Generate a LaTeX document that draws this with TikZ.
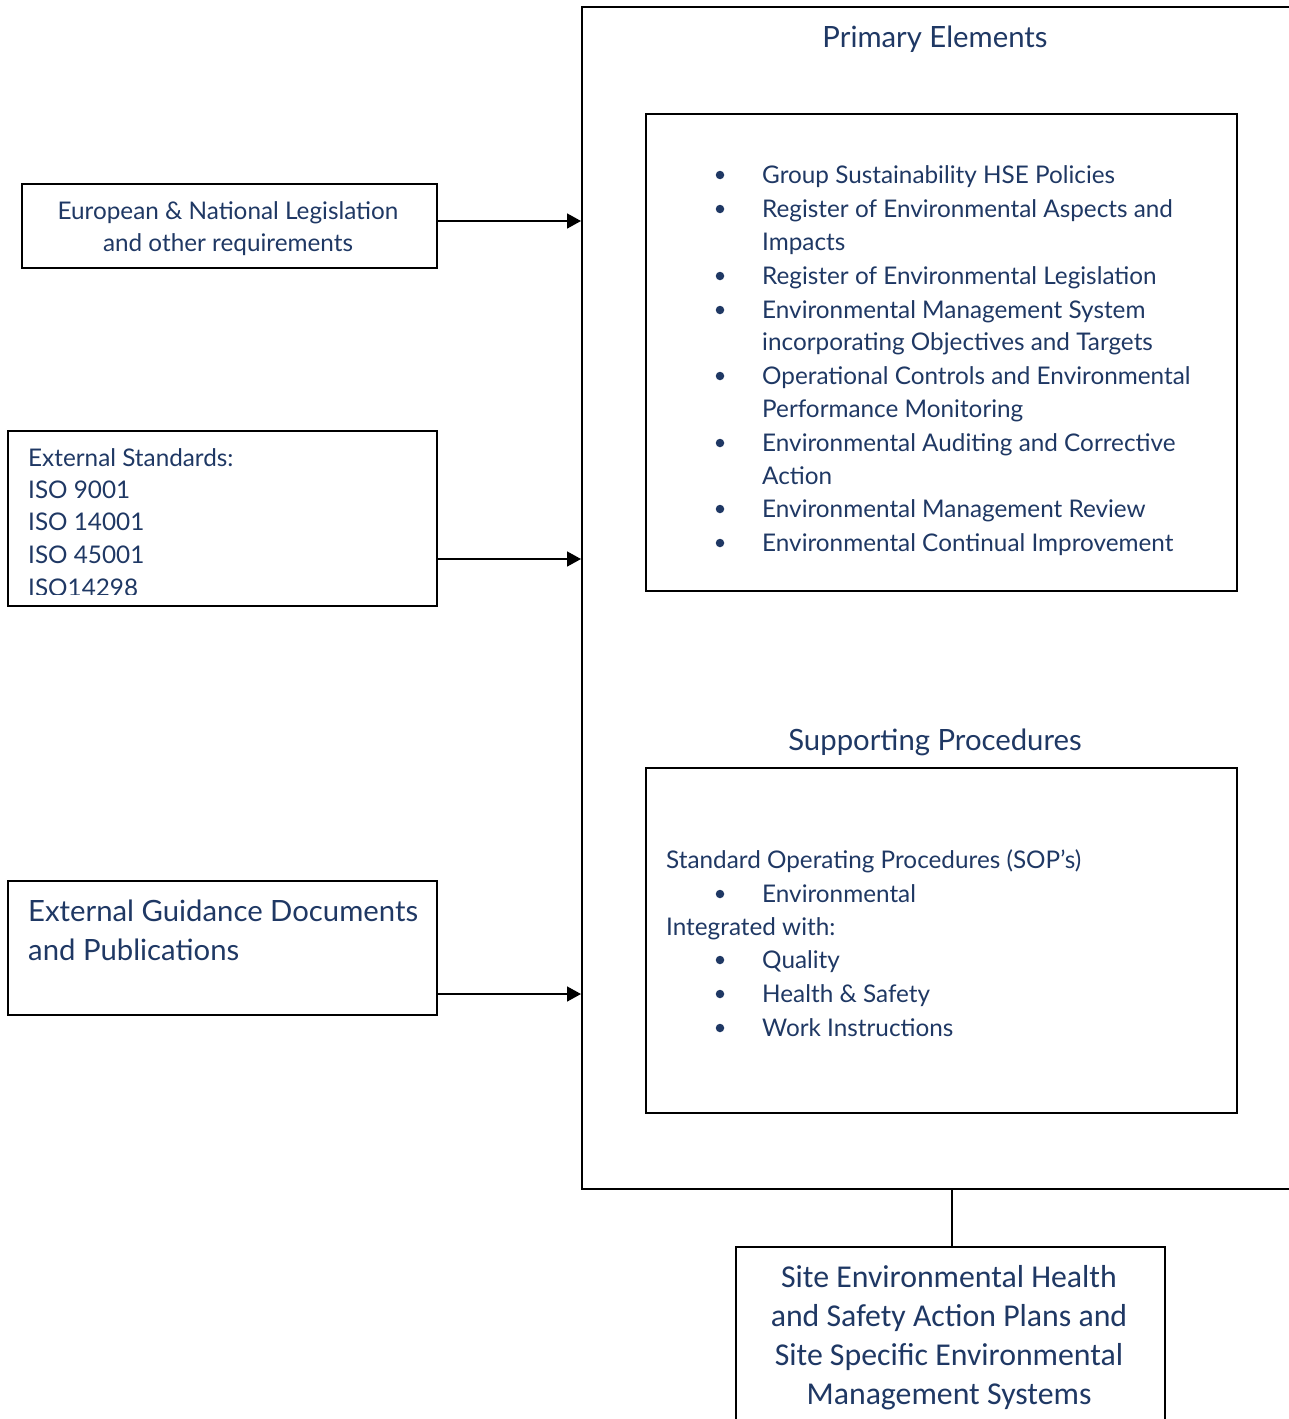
\documentclass[tikz,border=0pt]{standalone}
\usepackage{fontspec}
\setmainfont{Lato}
\newfontfamily\calib{Carlito}
\usetikzlibrary{arrows.meta}
\definecolor{txt}{HTML}{1F3864}
\begin{document}
\begin{tikzpicture}[x=1pt,y=-1pt,
  box/.style={draw=black, line width=1.6pt, inner sep=0, anchor=north west},
  lbl/.style={anchor=base west, inner sep=0, text=txt, font=\fontsize{24.3}{28}\selectfont},
  clbl/.style={lbl, anchor=base},
  big/.style={lbl, font=\fontsize{29.3}{34}\selectfont},
  site/.style={anchor=base, inner sep=0, text=txt, font=\calib\fontsize{31.8}{36}\selectfont},
  dot/.style={circle, fill=txt, inner sep=0, minimum size=8.5pt},
  arr/.style={-{Triangle[length=14pt,width=15pt]}, line width=1.6pt},
  conn/.style={line width=1.6pt}]
\useasboundingbox (0,0) rectangle (1288,1419);
% boxes
\node[box, minimum width=720pt, minimum height=1182pt] (outer) at (581,6) {};
\node[box, minimum width=591pt, minimum height=477pt] (prim) at (645,113) {};
\node[box, minimum width=591pt, minimum height=345pt] (supp) at (645,767) {};
\node[box, minimum width=415pt, minimum height=84pt] (eu) at (21,183) {};
\node[box, minimum width=429pt, minimum height=175pt] (std) at (7,430) {};
\node[box, minimum width=429pt, minimum height=134pt] (guide) at (7,880) {};
\node[box, minimum width=429pt, minimum height=200pt] (sitebox) at (735,1246) {};
% titles
\node[big, anchor=base] (tprim) at (935,47) {Primary Elements};
\node[big, anchor=base] (tsupp) at (935,750) {Supporting Procedures};
% left texts
\node[clbl] (eu1) at (228,219) {European \& National Legislation};
\node[clbl] (eu2) at (228,251) {and other requirements};
\node[lbl] (s1) at (28,466) {External Standards:};
\node[lbl] (s2) at (28,498) {ISO 9001};
\node[lbl] (s3) at (28,530) {ISO 14001};
\node[lbl] (s4) at (28,563) {ISO 45001};
\begin{scope}
\clip (20,570) rectangle (430,594);
\node[lbl] (s5) at (28,596) {ISO14298};
\end{scope}
\node[big] (g1) at (28,921) {External Guidance Documents};
\node[big] (g2) at (28,960) {and Publications};
% primary list
\foreach \n/\y in {1/175,2/209,3/276,4/310,5/376,6/443,7/509,8/543}
  \node[dot] (pd\n) at (720,\y) {};
\node[lbl] (p1) at (762,183) {Group Sustainability HSE Policies};
\node[lbl] (p2) at (762,217) {Register of Environmental Aspects and};
\node[lbl] (p2b) at (762,250) {Impacts};
\node[lbl] (p3) at (762,284) {Register of Environmental Legislation};
\node[lbl] (p4) at (762,318) {Environmental Management System};
\node[lbl] (p4b) at (762,350) {incorporating Objectives and Targets};
\node[lbl] (p5) at (762,384) {Operational Controls and Environmental};
\node[lbl] (p5b) at (762,417) {Performance Monitoring};
\node[lbl] (p6) at (762,451) {Environmental Auditing and Corrective};
\node[lbl] (p6b) at (762,484) {Action};
\node[lbl] (p7) at (762,517) {Environmental Management Review};
\node[lbl] (p8) at (762,551) {Environmental Continual Improvement};
% supporting list
\node[lbl] (q0) at (666,868) {Standard Operating Procedures (SOP’s)};
\node[dot] (qd1) at (720,894) {};
\node[lbl] (q1) at (762,902) {Environmental};
\node[lbl] (q2) at (666,935) {Integrated with:};
\node[dot] (qd3) at (720,960) {};
\node[lbl] (q3) at (762,968) {Quality};
\node[dot] (qd4) at (720,994) {};
\node[lbl] (q4) at (762,1002) {Health \& Safety};
\node[dot] (qd5) at (720,1028) {};
\node[lbl] (q5) at (762,1036) {Work Instructions};
% site text
\node[site] (t1) at (949,1287) {Site Environmental Health};
\node[site] (t2) at (949,1326) {and Safety Action Plans and};
\node[site] (t3) at (949,1365) {Site Specific Environmental};
\node[site] (t4) at (949,1404) {Management Systems};
% connectors
\coordinate (in1) at (581,221);
\coordinate (in2) at (581,559);
\coordinate (in3) at (581,994);
\draw[arr] (eu.east |- in1) -- (in1);
\draw[arr] (std.east |- in2) -- (in2);
\draw[arr] (guide.east |- in3) -- (in3);
\coordinate (down) at (952,1188);
\draw[conn] (down) -- (down |- sitebox.north);
\end{tikzpicture}
\end{document}
